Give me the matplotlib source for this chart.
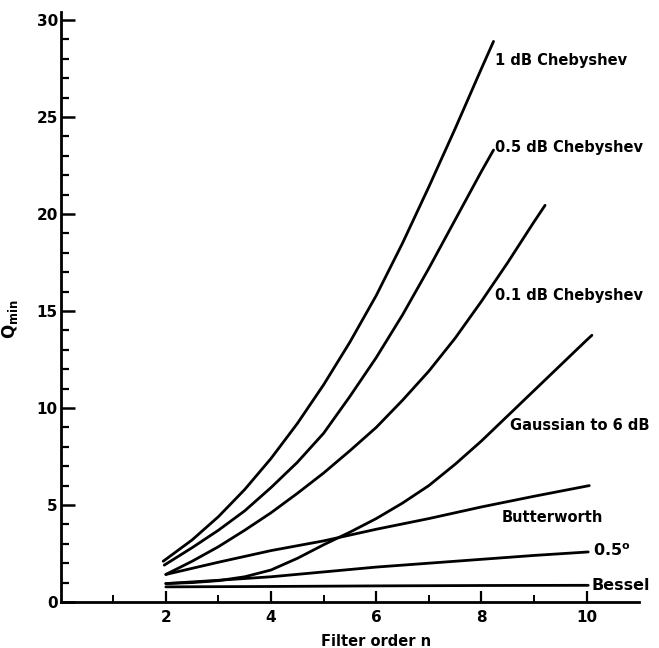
import matplotlib.pyplot as plt
import numpy as np

# values (filter order n, Q_min)
n_cheb1 = [1.95, 2.5, 3, 3.5, 4, 4.5, 5, 5.5, 6, 6.5, 7, 7.5, 8, 8.23]
q_cheb1 = [2.1, 3.2, 4.4, 5.8, 7.4, 9.2, 11.2, 13.4, 15.8, 18.5, 21.4, 24.4, 27.5, 28.9]

n_cheb05 = [1.97, 2.5, 3, 3.5, 4, 4.5, 5, 5.5, 6, 6.5, 7, 7.5, 8, 8.23]
q_cheb05 = [1.9, 2.8, 3.7, 4.7, 5.9, 7.2, 8.7, 10.6, 12.6, 14.8, 17.2, 19.7, 22.2, 23.3]

n_cheb01 = [2, 2.5, 3, 3.5, 4, 4.5, 5, 5.5, 6, 6.5, 7, 7.5, 8, 8.5, 9, 9.21]
q_cheb01 = [1.42, 2.1, 2.85, 3.7, 4.6, 5.6, 6.65, 7.8, 9.0, 10.4, 11.9, 13.6, 15.5, 17.5, 19.6, 20.45]

n_gauss = [2, 2.5, 3, 3.5, 4, 4.5, 5, 5.5, 6, 6.5, 7, 7.5, 8, 8.5, 9, 9.5, 10, 10.1]
q_gauss = [0.95, 1.0, 1.1, 1.3, 1.65, 2.25, 2.95, 3.6, 4.3, 5.1, 6.0, 7.1, 8.3, 9.6, 10.9, 12.2, 13.5, 13.75]

n_butter = [2, 3, 4, 5, 6, 7, 8, 9, 10.05]
q_butter = [1.42, 2.05, 2.65, 3.15, 3.75, 4.3, 4.9, 5.45, 6.0]

n_half = [2, 3, 4, 5, 6, 7, 8, 9, 10.03]
q_half = [0.95, 1.12, 1.3, 1.55, 1.8, 2.0, 2.2, 2.4, 2.58]

n_bessel = [2, 4, 6, 8, 10.03]
q_bessel = [0.78, 0.8, 0.83, 0.85, 0.86]

curves = [
    (n_cheb1, q_cheb1, '1 dB Chebyshev', (8.25, 27.9), 10.5),
    (n_cheb05, q_cheb05, '0.5 dB Chebyshev', (8.26, 23.45), 10.5),
    (n_cheb01, q_cheb01, '0.1 dB Chebyshev', (8.26, 15.8), 10.5),
    (n_gauss, q_gauss, 'Gaussian to 6 dB', (8.55, 9.1), 10.5),
    (n_butter, q_butter, 'Butterworth', (8.39, 4.38), 10.5),
    (n_half, q_half, '0.5$^{\\mathregular{o}}$', (10.12, 2.62), 11.5),
    (n_bessel, q_bessel, 'Bessel', (10.1, 0.86), 11.5),
]

plt.rcParams['font.family'] = 'DejaVu Sans'
plt.rcParams['font.weight'] = 'bold'

fig = plt.figure(figsize=(6.59, 6.48), dpi=100)
ax = fig.add_axes([0.092, 0.071, 0.878, 0.910])

for xs, ys, label, pos, fs in curves:
    ax.plot(xs, ys, color='black', lw=2.0, solid_capstyle='round', solid_joinstyle='round')
    ax.text(pos[0], pos[1], label, fontsize=fs, fontweight='bold',
            va='center', ha='left')

ax.set_xlim(0, 11)
ax.set_ylim(0, 30.4)
ax.spines['top'].set_visible(False)
ax.spines['right'].set_visible(False)
ax.spines['left'].set_linewidth(2.0)
ax.spines['bottom'].set_linewidth(2.0)

ax.set_xticks([2, 4, 6, 8, 10])
ax.set_xticks([1, 3, 5, 7, 9], minor=True)
ax.set_yticks([0, 5, 10, 15, 20, 25, 30])
ax.set_yticks([v for v in range(1, 30) if v % 5], minor=True)
ax.tick_params(axis='y', which='major', direction='in', length=10, width=1.8, labelsize=11, pad=2)
ax.tick_params(axis='y', which='minor', direction='in', length=6, width=1.6)
ax.tick_params(axis='x', which='major', direction='in', length=8, width=1.6, labelsize=11, pad=6)
ax.tick_params(axis='x', which='minor', direction='in', length=5, width=1.4)

ax.set_xlabel('Filter order n', fontsize=10.5, fontweight='bold')
ax.xaxis.set_label_coords(6 / 11, -0.055)
ax.set_ylabel(r'Q$_{\mathregular{min}}$', fontsize=12, fontweight='bold')
ax.yaxis.set_label_coords(-0.07, 0.48)

fig.savefig('out.png', dpi=100)
